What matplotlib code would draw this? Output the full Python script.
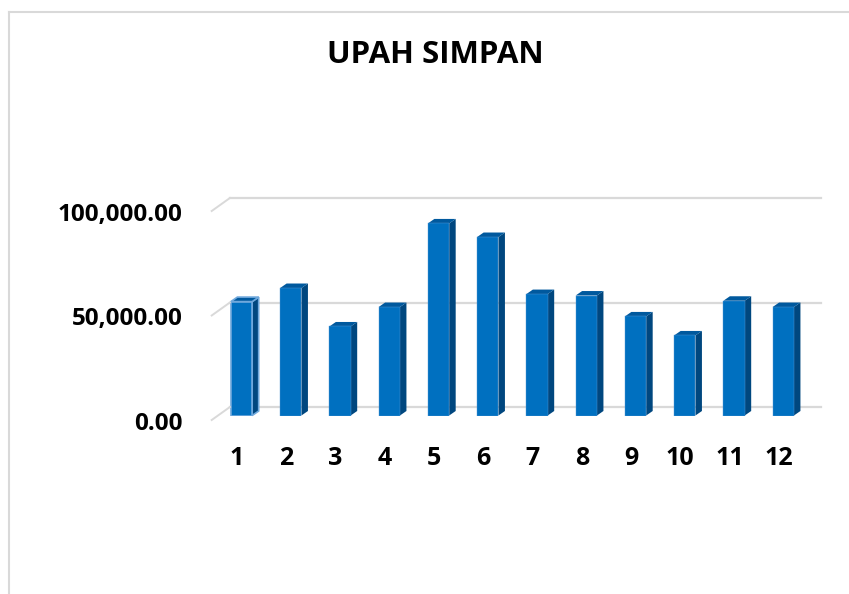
import matplotlib
matplotlib.use("Agg")
import matplotlib.pyplot as plt
from matplotlib.patches import Polygon
from matplotlib.lines import Line2D
from matplotlib.transforms import ScaledTranslation

# data
months = ["1", "2", "3", "4", "5", "6", "7", "8", "9", "10", "11", "12"]
upah = [54500, 61000, 42600, 51900, 91900, 85400, 58100, 57400, 47400, 38300, 54900, 51900]
yticks = [0, 50000, 100000]
ytick_labels = ["0.00", "50,000.00", "100,000.00"]

plt.rcParams["font.family"] = ["Open Sans", "DejaVu Sans"]
plt.rcParams["font.weight"] = "bold"

W, H, DPI = 849, 594, 100
fig = plt.figure(figsize=(W / DPI, H / DPI), dpi=DPI)

# axes placed in pixels (front plane of the bars)
ax_left, ax_right = 216.9, 807.9
ax_bottom_px, ax_top_px = 415.5, 206.5
ax = fig.add_axes([ax_left / W, (H - ax_bottom_px) / H,
                   (ax_right - ax_left) / W, (ax_bottom_px - ax_top_px) / H])
ax.set_xlim(0.5, 12.5)
ax.set_ylim(0, 100000)
for s in ax.spines.values():
    s.set_visible(False)

px_x = (ax_right - ax_left) / 12          # pixels per category
px_y = (ax_bottom_px - ax_top_px) / 100000  # pixels per unit value

def shift(dx_px, dy_px):
    return ax.transData + ScaledTranslation(dx_px / DPI, dy_px / DPI, fig.dpi_scale_trans)

# back wall gridlines + floor diagonals
grid_col = "#D9D9D9"
for v in yticks:
    ax.add_line(Line2D([0.5, 12.5], [v, v], transform=shift(13, 8.5),
                       color=grid_col, lw=1.6, clip_on=False, zorder=1))
    p0 = shift(-5.2, -4.5).transform((0.5, v))
    p1 = shift(13, 8.5).transform((0.5, v))
    fig.add_artist(Line2D([p0[0] / W, p1[0] / W], [p0[1] / H, p1[1] / H],
                          color=grid_col, lw=1.4))

# 3D-ish bars
front_col, side_col, top_col = "#0070C0", "#00477F", "#00599E"
bw = 0.433
depth_x = 6.5 / px_x
depth_y = 4.5 / px_y
xs = list(range(1, len(months) + 1))
for i, (x, v) in enumerate(zip(xs, upah)):
    ec = "#6FA8DC" if i == 0 else "none"
    lw = 1.2 if i == 0 else 0
    r = x + bw / 2
    l = x - bw / 2
    side = Polygon([(r, 0), (r, v), (r + depth_x, v + depth_y), (r + depth_x, depth_y)],
                   closed=True, facecolor=side_col, edgecolor=ec, lw=lw, zorder=3, clip_on=False)
    top = Polygon([(l, v), (r, v), (r + depth_x, v + depth_y), (l + depth_x, v + depth_y)],
                  closed=True, facecolor=top_col, edgecolor=ec, lw=lw, zorder=3, clip_on=False)
    ax.add_patch(side)
    ax.add_patch(top)
ax.bar(xs, upah, width=bw, color=front_col, zorder=4,
       edgecolor=["#6FA8DC"] + ["#5A9AD6"] * (len(xs) - 1),
       linewidth=[1.2] + [0.3] * (len(xs) - 1))

# ticks
ax.set_yticks(yticks)
ax.set_yticklabels(ytick_labels, fontsize=17.5, fontweight="bold")
ax.set_xticks(xs)
ax.set_xticklabels(months, fontsize=18, fontweight="bold")
ax.tick_params(axis="y", length=0, pad=24.5)
ax.tick_params(axis="x", length=0, pad=22)
for lab in ax.get_yticklabels():
    lab.set_transform(lab.get_transform() + ScaledTranslation(0, -5 / DPI, fig.dpi_scale_trans))
for lab in ax.get_xticklabels():
    lab.set_transform(lab.get_transform() + ScaledTranslation(-4.5 / DPI, 0, fig.dpi_scale_trans))

# title
fig.text(435 / W, 1 - 55 / H, "UPAH SIMPAN", ha="center", va="center",
         fontsize=22.5, fontweight="bold")

# chart area border (only top and left visible in the crop)
fig.add_artist(Line2D([8.5 / W, 8.5 / W], [0, 1 - 11.5 / H], color="#D9D9D9", lw=1.5))
fig.add_artist(Line2D([8.5 / W, 1], [1 - 11.5 / H, 1 - 11.5 / H], color="#D9D9D9", lw=1.5))

fig.savefig("out.png", dpi=DPI, facecolor="white")
